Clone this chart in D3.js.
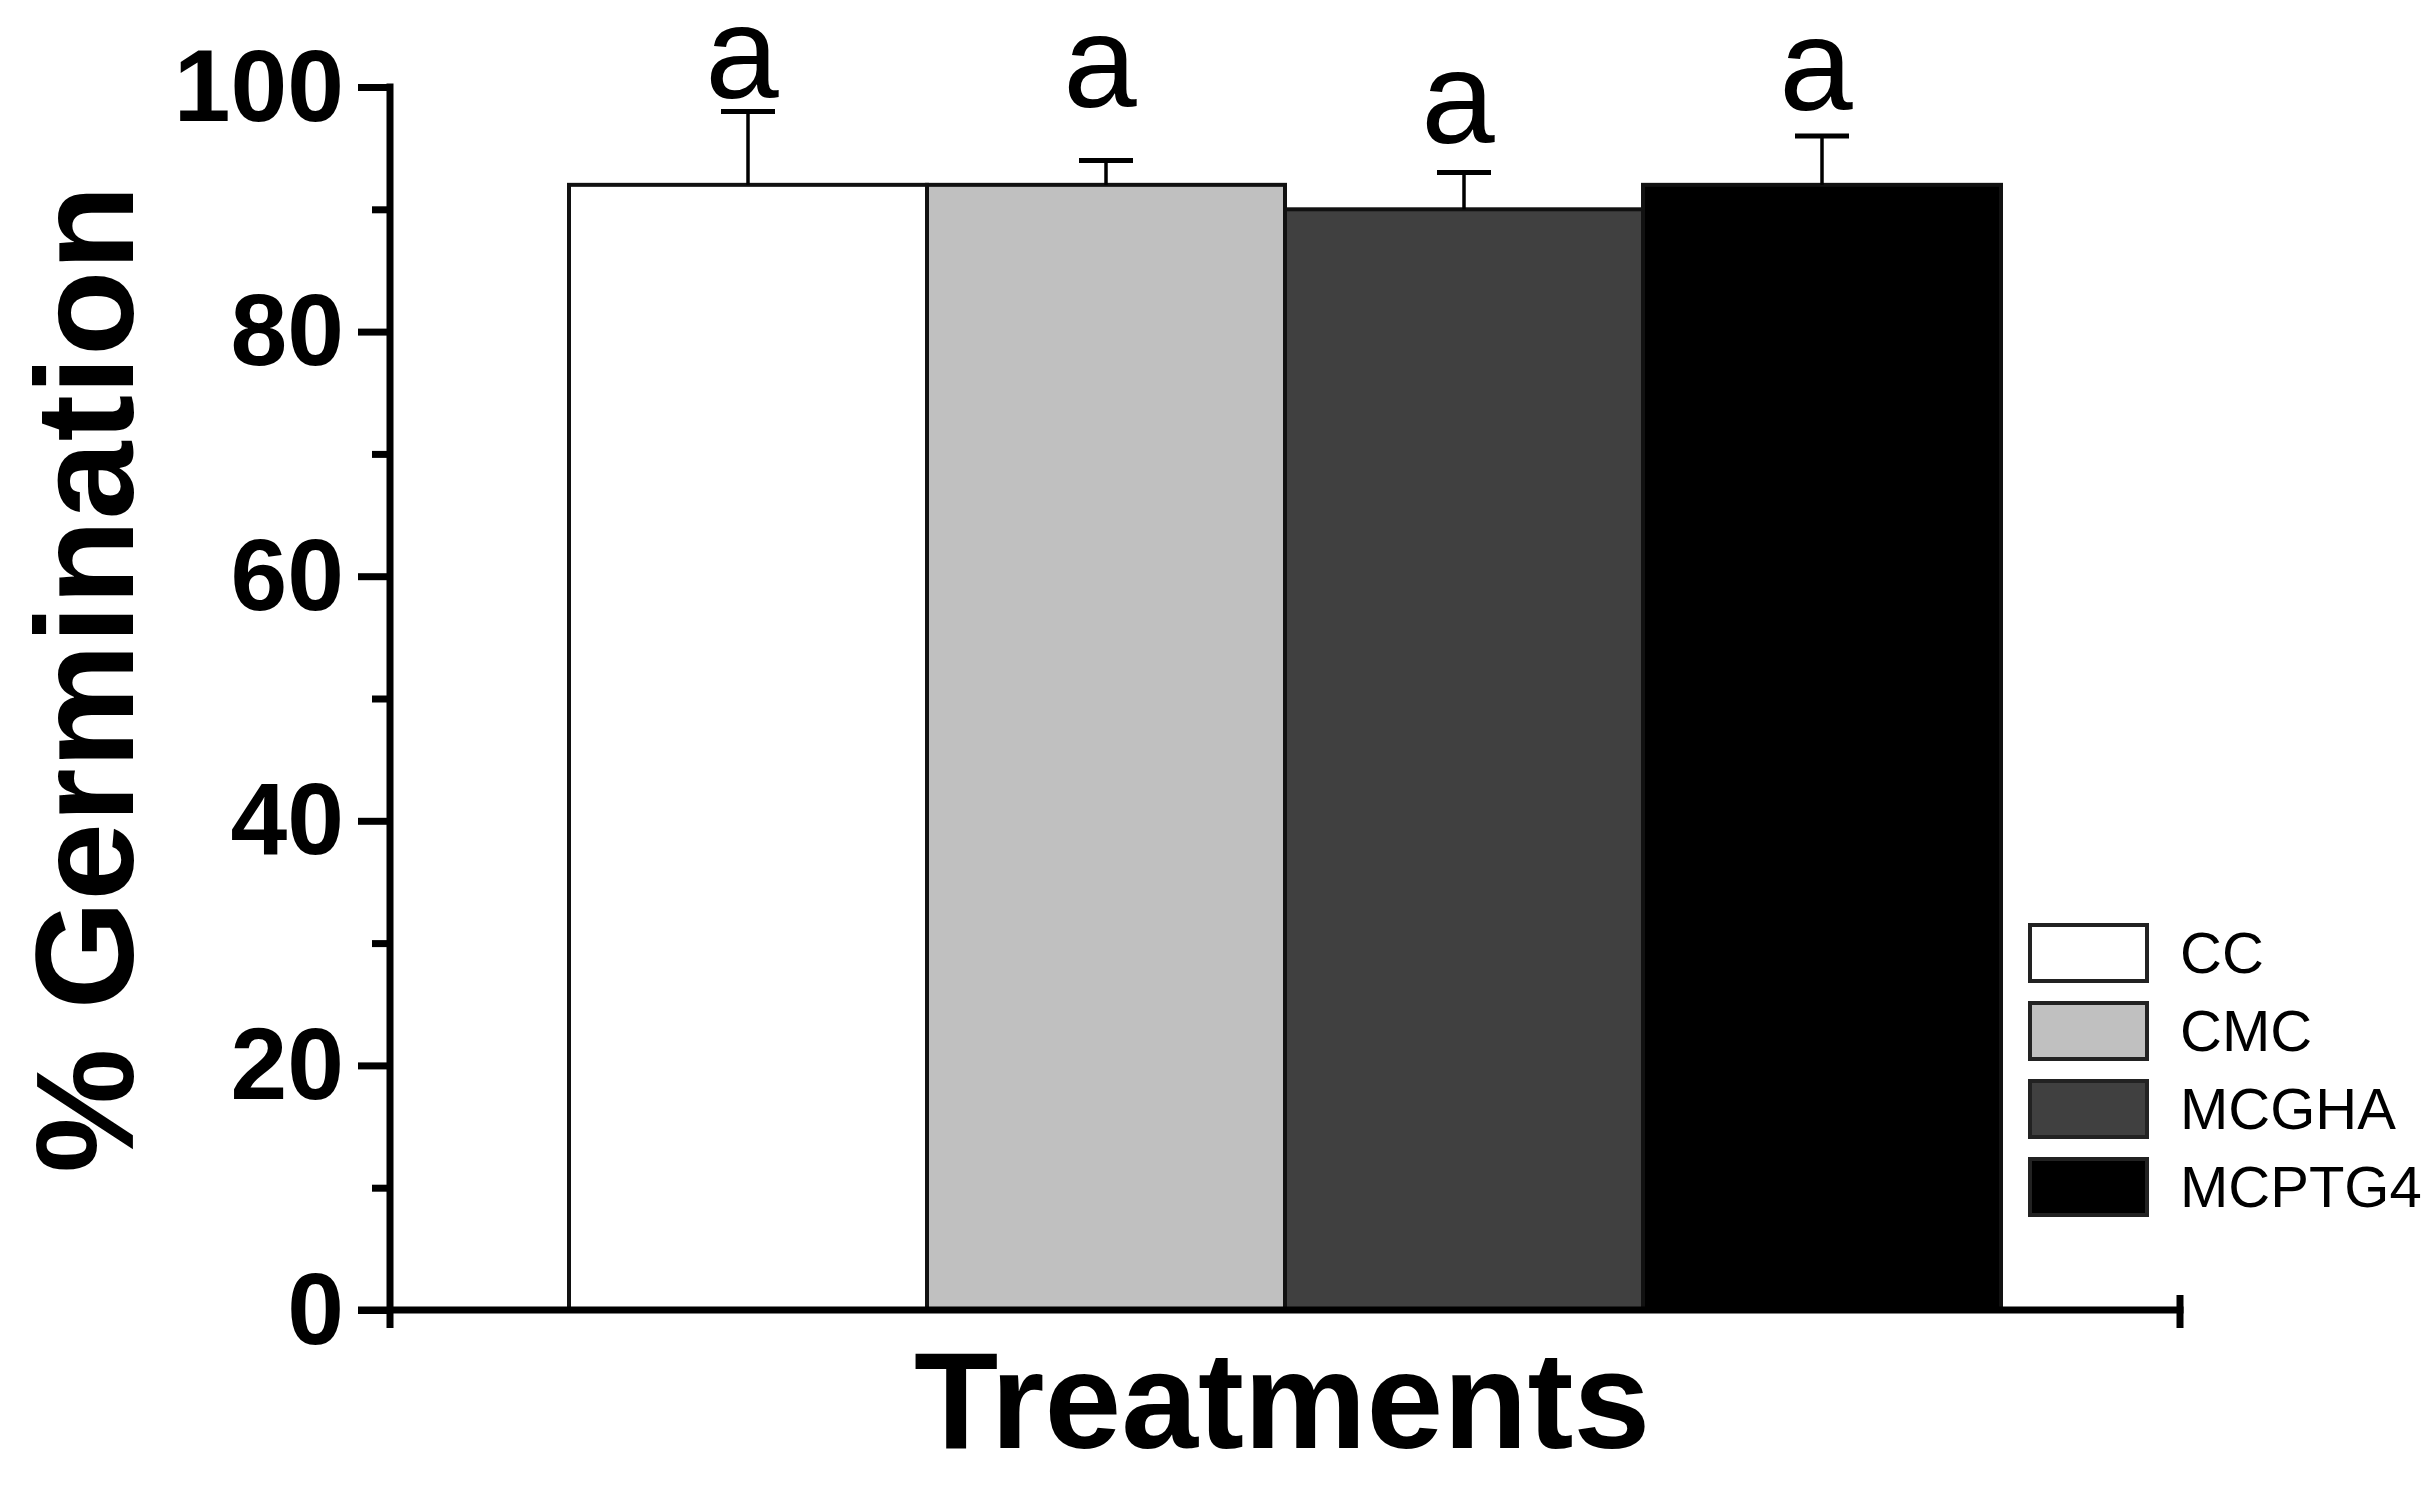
<!DOCTYPE html>
<html>
<head>
<meta charset="utf-8">
<script src="https://cdn.jsdelivr.net/npm/d3@7"></script>
<style>
  html, body { margin: 0; padding: 0; background: #ffffff; }
  svg { display: block; }
  text { font-family: "Liberation Sans", Arial, Helvetica, sans-serif; }
</style>
</head>
<body>
<svg id="chart" width="2434" height="1485"></svg>
<script>
// ---- data ----
const categories = ["CC", "CMC", "MCGHA", "MCPTG4"];
const germination = [92, 92, 90, 92];
const errors = [6, 2, 3, 4];
const letters = ["a", "a", "a", "a"];
const letterLevels = [99.1, 98.4, 95.4, 98.1];
const fills = ["#ffffff", "#c0c0c0", "#404040", "#000000"];
const majorTicks = [0, 20, 40, 60, 80, 100];
const minorTicks = [10, 30, 50, 70, 90];
const yTitle = "% Germination";
const xTitle = "Treatments";

// ---- layout ----
const svg = d3.select("#chart");
const axisX = 390, axisY = 1310, topY = 87, axisRight = 2180;

const y = d3.scaleLinear().domain([0, 100]).range([axisY, topY]);
const x = d3.scaleBand().domain(categories).range([axisX, axisRight])
  .paddingInner(0).paddingOuter(0.5);

// bars
svg.append("g").selectAll("rect").data(categories).join("rect")
  .attr("x", d => x(d))
  .attr("y", (d, i) => y(germination[i]))
  .attr("width", x.bandwidth())
  .attr("height", (d, i) => y(0) - y(germination[i]))
  .attr("fill", (d, i) => fills[i])
  .attr("stroke", "#111")
  .attr("stroke-width", 4);

// error bars (upper only)
const eb = svg.append("g");
categories.forEach((c, i) => {
  const cx = x(c) + x.bandwidth() / 2;
  eb.append("line")
    .attr("x1", cx).attr("x2", cx)
    .attr("y1", y(germination[i])).attr("y2", y(germination[i] + errors[i]))
    .attr("stroke", "#000").attr("stroke-width", 3.5);
  eb.append("line")
    .attr("x1", cx - 27).attr("x2", cx + 27)
    .attr("y1", y(germination[i] + errors[i])).attr("y2", y(germination[i] + errors[i]))
    .attr("stroke", "#000").attr("stroke-width", 5);
});

// significance letters
svg.append("g").selectAll("text").data(categories).join("text")
  .attr("x", d => x(d) + x.bandwidth() / 2 - 6)
  .attr("y", (d, i) => y(letterLevels[i]))
  .attr("text-anchor", "middle")
  .attr("font-size", 132)
  .attr("fill", "#000")
  .text((d, i) => letters[i]);

// y axis (major)
const yAxis = svg.append("g").attr("transform", `translate(${axisX},0)`)
  .call(d3.axisLeft(y).tickValues(majorTicks).tickSize(32).tickSizeOuter(0).tickPadding(14));
yAxis.select(".domain").remove();
yAxis.selectAll(".tick line").attr("stroke", "#000").attr("stroke-width", 7);
yAxis.selectAll(".tick text")
  .attr("font-size", 102).attr("font-weight", "bold").attr("fill", "#000")
  .attr("dy", 33).attr("font-family", "'Liberation Sans', Arial, sans-serif");

// y axis (minor)
const yMinor = svg.append("g").attr("transform", `translate(${axisX},0)`)
  .call(d3.axisLeft(y).tickValues(minorTicks).tickSize(18).tickFormat(""));
yMinor.select(".domain").remove();
yMinor.selectAll(".tick line").attr("stroke", "#000").attr("stroke-width", 7);

// y axis line (extends slightly below x axis)
svg.append("line")
  .attr("x1", axisX).attr("x2", axisX)
  .attr("y1", y(100) - 3.5).attr("y2", axisY + 18)
  .attr("stroke", "#000").attr("stroke-width", 7);

// x axis line + end tick
svg.append("line")
  .attr("x1", axisX - 32).attr("x2", axisRight + 3.5)
  .attr("y1", axisY).attr("y2", axisY)
  .attr("stroke", "#000").attr("stroke-width", 7);
svg.append("line")
  .attr("x1", axisRight).attr("x2", axisRight)
  .attr("y1", axisY - 15).attr("y2", axisY + 18)
  .attr("stroke", "#000").attr("stroke-width", 7);

// axis titles
svg.append("text")
  .attr("transform", `translate(133, ${679}) rotate(-90)`)
  .attr("text-anchor", "middle")
  .attr("font-size", 140).attr("font-weight", "bold").attr("fill", "#000")
  .text(yTitle);

svg.append("text")
  .attr("x", 914).attr("y", 1448)
  .attr("font-size", 138).attr("font-weight", "bold").attr("fill", "#000")
  .text(xTitle);

// legend
const legend = svg.append("g").attr("transform", "translate(2030,925)");
const leg = legend.selectAll("g").data(categories).join("g")
  .attr("transform", (d, i) => `translate(0, ${i * 78})`);
leg.append("rect")
  .attr("x", 0).attr("y", 0).attr("width", 117).attr("height", 56)
  .attr("fill", (d, i) => fills[i])
  .attr("stroke", "#222").attr("stroke-width", 4);
leg.append("text")
  .attr("x", 150).attr("y", 28).attr("dy", "0.35em")
  .attr("font-size", 58).attr("fill", "#000")
  .text(d => d);
</script>
</body>
</html>
